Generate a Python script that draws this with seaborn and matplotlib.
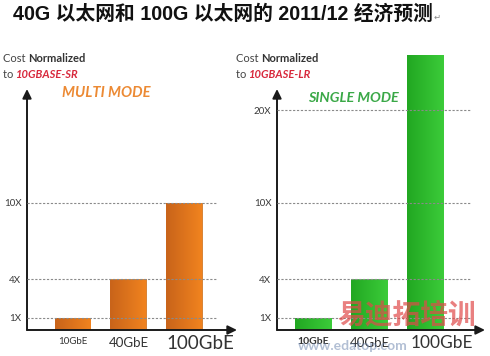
import numpy as np
import matplotlib
matplotlib.use("Agg")
import matplotlib.pyplot as plt
import matplotlib.transforms as mtransforms
from matplotlib.colors import LinearSegmentedColormap
import seaborn as sns

# ---------------- data ----------------
categories = ["10GbE", "40GbE", "100GbE"]
multi_mode_cost = [1, 4, 10]
single_mode_cost = [1, 4, 26]
multi_ticks = [1, 4, 10]
single_ticks = [1, 4, 10, 20]
multi_tick_labels = ["1X", "4X", "10X"]
single_tick_labels = ["1X", "4X", "10X", "20X"]
title = "40G 以太网和 100G 以太网的 2011/12 经济预测"

sns.set_theme(style="white")
plt.rcParams["font.family"] = ["Lato", "Noto Sans CJK SC", "DejaVu Sans"]

W, H = 490, 356
fig = plt.figure(figsize=(W / 100, H / 100), dpi=100)
fig.patch.set_facecolor("white")

# piecewise-linear value axis like the hand-drawn slide
V = [0, 1, 4, 10, 20, 60]
P = [0, 12.5, 50.7, 127.5, 220, 588]
def fwd(v):
    return np.interp(v, V, P)
def inv(p):
    return np.interp(p, P, V)

def fx(px):
    return px / W
def fy(py):
    return 1 - py / H

def panel(rect, values, ticks, tick_labels, xlim, c_dark, c_light, grid_frac,
          label_sizes, label_weights, big_shift):
    ax = fig.add_axes(rect)
    sns.barplot(x=categories, y=values, ax=ax, width=0.66, color=c_light,
                edgecolor="none", zorder=2)
    ax.set_yscale("function", functions=(fwd, inv))
    ax.set_ylim(0, inv(280))
    ax.set_xlim(*xlim)
    for s in ax.spines.values():
        s.set_visible(False)
    ax.set_facecolor("none")
    # gradient fill
    cmap = LinearSegmentedColormap.from_list("g", [c_dark, c_light])
    grad = np.linspace(0, 1, 64).reshape(1, -1)
    for p in list(ax.patches):
        x0, y0 = p.get_x(), p.get_y()
        x1, y1 = x0 + p.get_width(), y0 + p.get_height()
        im = ax.imshow(grad, extent=[x0, x1, y0, y1], aspect="auto", cmap=cmap,
                       zorder=3, interpolation="bilinear")
        im.set_clip_path(p)
    ax.set_xlim(*xlim)
    ax.set_ylim(0, inv(280))
    ax.set_aspect("auto")
    # gridlines
    ax.hlines(ticks, 0, grid_frac, transform=ax.get_yaxis_transform(),
              colors="#8a8a8a", linestyles=(0, (2, 1.5)), lw=0.8, zorder=5)
    ax.set_yticks(ticks, tick_labels)
    ax.tick_params(axis="y", length=0, pad=4, labelsize=7, labelcolor="#3a3a3a")
    ax.tick_params(axis="x", length=0, pad=5, labelcolor="#333333")
    ax.set_xlabel("")
    ax.set_ylabel("")
    for lab, sz, wt in zip(ax.get_xticklabels(), label_sizes, label_weights):
        lab.set_fontsize(sz)
        lab.set_fontweight(wt)
    big = ax.get_xticklabels()[-1]
    big.set_transform(big.get_transform() +
                      mtransforms.ScaledTranslation(big_shift / 100, 0.02, fig.dpi_scale_trans))
    # axes arrows
    ap = dict(arrowstyle="-|>,head_length=0.45,head_width=0.22", color="#1a1a1a",
              lw=1.4, shrinkA=0, shrinkB=0)
    ax.annotate("", xy=(1, 0), xytext=(0, 0), xycoords="axes fraction",
                arrowprops=ap, annotation_clip=False)
    ax.annotate("", xy=(0, 241 / 280), xytext=(0, 0), xycoords="axes fraction",
                arrowprops=ap, annotation_clip=False)
    return ax

panel([fx(27), fy(330), 210 / W, 280 / H], multi_mode_cost, multi_ticks,
      multi_tick_labels, (-0.83, 2.95), "#c9641a", "#f2841f", 0.905,
      [7, 9.5, 13.5], ["normal", "normal", "normal"], 16)
panel([fx(277), fy(330), 208 / W, 280 / H], single_mode_cost, single_ticks,
      single_tick_labels, (-0.65, 3.06), "#22a822", "#3ccc3a", 0.93,
      [7.5, 9.5, 12.5], ["bold", "normal", "normal"], 16)

# ---------------- texts ----------------
fig.text(fx(13), fy(14), title, fontsize=14.2, fontweight="bold", color="#111111",
         va="center", ha="left", family=["Liberation Sans", "Noto Sans CJK SC"])
fig.text(fx(434), fy(17), "↵", fontsize=6, color="#888888", va="center",
         family=["DejaVu Sans"])

renderer = fig.canvas.get_renderer()

def two_part(x, y, a, b, kw_a, kw_b):
    t = fig.text(fx(x), fy(y), a, va="center", ha="left", **kw_a)
    bb = t.get_window_extent(renderer)
    fig.text(bb.x1 / W, fy(y), b, va="center", ha="left", **kw_b)

for x0, ref in [(3, "10GBASE-SR"), (236, "10GBASE-LR")]:
    two_part(x0, 58, "Cost ", "Normalized",
             dict(fontsize=8, color="#444444"),
             dict(fontsize=8, color="#333333", fontweight="bold"))
    two_part(x0, 75, "to ", ref,
             dict(fontsize=8, color="#444444"),
             dict(fontsize=8, color="#d8283c", fontweight="bold", style="italic"))

fig.text(fx(62), fy(93), "MULTI MODE", fontsize=10.6, fontweight="bold",
         style="italic", color="#ec8a34", va="center", ha="left")
fig.text(fx(308), fy(98), "SINGLE MODE", fontsize=10.4, fontweight="bold",
         style="italic", color="#3aa847", va="center", ha="left")

# watermark
fig.text(fx(337), fy(315), "易迪拓培训", fontsize=20, fontweight="bold",
         color="#e04a4a", alpha=0.7, va="center", ha="left",
         family=["Noto Sans CJK SC"], zorder=10)
fig.text(fx(298), fy(346), "www.edatop.com", fontsize=10, fontweight="bold",
         color="#6680aa", alpha=0.5, va="center", ha="left", zorder=10)

fig.savefig("out.png", dpi=100, facecolor="white")
